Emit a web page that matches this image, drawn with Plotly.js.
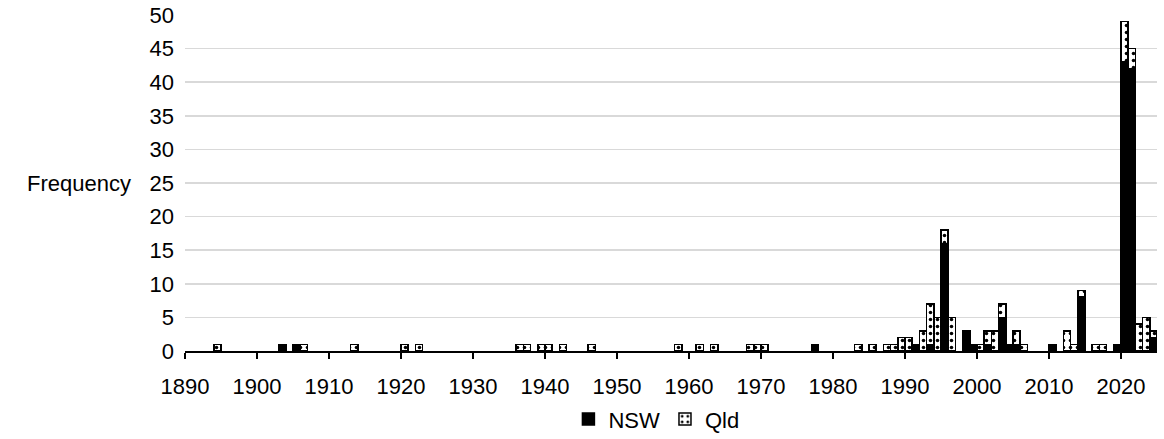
<!DOCTYPE html>
<html>
<head>
<meta charset="utf-8">
<script src="https://cdn.plot.ly/plotly-3.0.1.min.js"></script>
<style>
  html, body { margin: 0; padding: 0; background: #ffffff; }
  #chart { width: 1164px; height: 439px; }
</style>
</head>
<body>
<div id="chart"></div>
<script>
// ---- Data ----
const nswYears  = [1903, 1905, 1977, 1991, 1993, 1995, 1998, 1999, 2001, 2003, 2004, 2005, 2010, 2014, 2019, 2020, 2021, 2024];
const nswValues = [1,    1,    1,    1,    1,    16,   3,    1,    1,    5,    1,    1,    1,    8,    1,    43,   42,   2];

const qldYears  = [1894, 1906, 1913, 1920, 1922, 1936, 1937, 1939, 1940, 1942, 1946, 1958, 1961, 1963, 1968, 1969, 1970,
                   1983, 1985, 1987, 1988, 1989, 1990, 1992, 1993, 1994, 1995, 1996, 2000, 2001, 2002, 2003, 2005, 2006,
                   2012, 2013, 2014, 2016, 2017, 2020, 2021, 2022, 2023, 2024];
const qldValues = [1,    1,    1,    1,    1,    1,    1,    1,    1,    1,    1,    1,    1,    1,    1,    1,    1,
                   1,    1,    1,    1,    2,    2,    3,    6,    5,    2,    5,    1,    2,    3,    2,    2,    1,
                   3,    1,    1,    1,    1,    6,    3,    4,    5,    1];

const xTickVals = [1890, 1900, 1910, 1920, 1930, 1940, 1950, 1960, 1970, 1980, 1990, 2000, 2010, 2020];
const yTickVals = [0, 5, 10, 15, 20, 25, 30, 35, 40, 45, 50];
const seriesNames = ['NSW', 'Qld'];
const yTitle = 'Frequency';

const FONT = 'Liberation Sans, Arial, sans-serif';
const FS = 22;

const traces = [
  {
    type: 'bar',
    name: seriesNames[0],
    x: nswYears,
    y: nswValues,
    width: 1,
    offset: 0,
    marker: { color: '#000000', line: { color: '#000000', width: 1.5 } },
    hoverinfo: 'skip'
  },
  {
    type: 'bar',
    name: seriesNames[1],
    x: qldYears,
    y: qldValues,
    width: 1,
    offset: 0,
    marker: {
      color: '#ffffff',
      line: { color: '#000000', width: 1.5 },
      pattern: { shape: '.', fgcolor: '#000000', bgcolor: '#ffffff', size: 7, solidity: 0.2 }
    },
    hoverinfo: 'skip'
  }
];

const layout = {
  width: 1164,
  height: 439,
  margin: { l: 185, r: 7, t: 15, b: 88, autoexpand: false },
  paper_bgcolor: '#ffffff',
  plot_bgcolor: '#ffffff',
  barmode: 'stack',
  bargap: 0,
  font: { family: FONT, size: FS, color: '#000000' },
  showlegend: true,
  legend: {
    orientation: 'h',
    xref: 'paper', yref: 'container',
    x: 0.485, xanchor: 'center',
    y: 0.045, yanchor: 'middle',
    font: { family: FONT, size: FS, color: '#000000' },
    itemwidth: 30,
    tracegroupgap: 0,
    traceorder: 'normal'
  },
  xaxis: {
    range: [1890, 2025],
    tickmode: 'array',
    tickvals: xTickVals,
    ticktext: xTickVals.map(String),
    showgrid: false,
    zeroline: false,
    showline: true,
    linecolor: '#000000',
    linewidth: 1.5,
    ticks: 'outside',
    ticklen: 6,
    tickwidth: 1.5,
    tickcolor: '#000000',
    ticklabelstandoff: 9,
    automargin: false,
    tickfont: { family: FONT, size: FS, color: '#000000' },
    fixedrange: true
  },
  yaxis: {
    range: [0, 50],
    tickmode: 'array',
    tickvals: yTickVals,
    ticktext: yTickVals.map(String),
    showgrid: true,
    gridcolor: '#d9d9d9',
    gridwidth: 1.5,
    zeroline: false,
    showline: false,
    ticks: '',
    ticklabelstandoff: 10,
    automargin: false,
    tickfont: { family: FONT, size: FS, color: '#000000' },
    fixedrange: true
  },
  annotations: [
    {
      text: yTitle,
      xref: 'paper', yref: 'y',
      x: -0.054, y: 25,
      xanchor: 'right', yanchor: 'middle',
      showarrow: false,
      font: { family: FONT, size: FS, color: '#000000' }
    }
  ]
};

Plotly.newPlot('chart', traces, layout, { displayModeBar: false, staticPlot: true });
</script>
</body>
</html>
